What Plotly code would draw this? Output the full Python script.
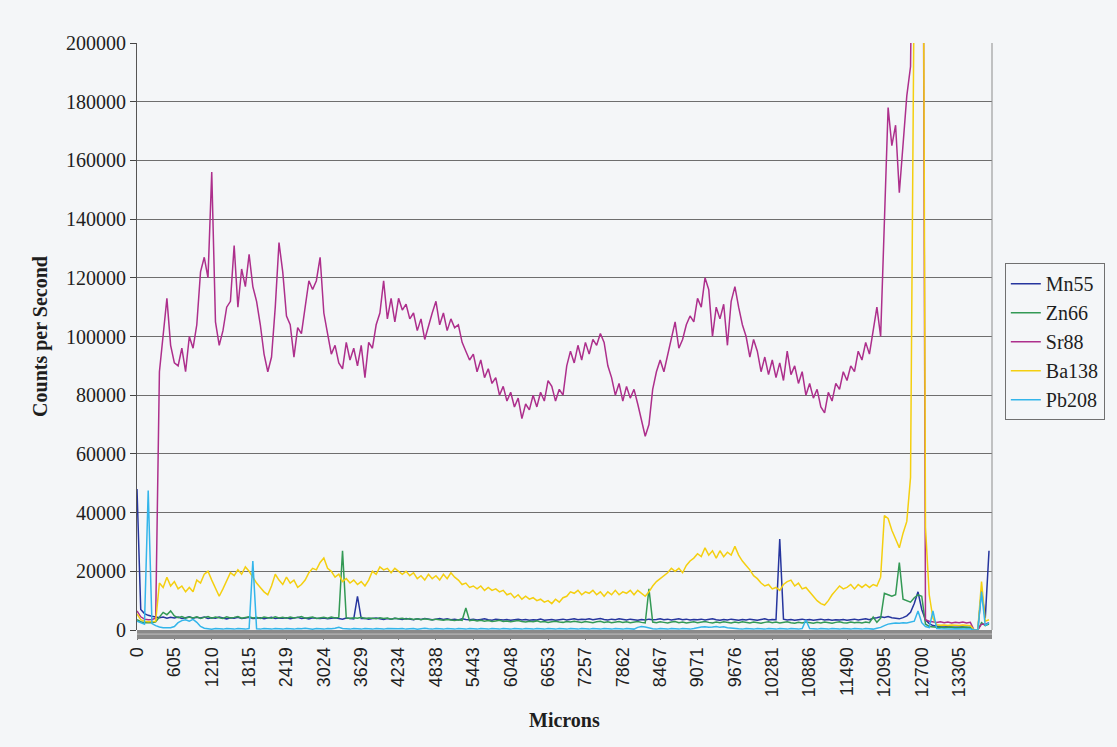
import plotly.graph_objects as go

# Category labels along the transect (microns), one every LABEL_STEP samples
MICRON_LABELS = ["0", "605", "1210", "1815", "2419", "3024", "3629", "4234", "4838",
                 "5443", "6048", "6653", "7257", "7862", "8467", "9071", "9676",
                 "10281", "10886", "11490", "12095", "12700", "13305"]
LABEL_STEP = 10

MN55 = [
    48000, 7000, 5600, 5000, 4700, 4500, 4200, 4400, 4000, 4300,
    4100, 4400, 3900, 4200, 4500, 4000, 4300, 4100, 4400, 3900,
    4200, 4000, 4400, 4100, 3800, 4200, 4000, 4300, 3900, 4100,
    4300, 3900, 4100, 4200, 3800, 4000, 4300, 3900, 4100, 4000,
    4200, 3800, 4000, 4300, 3900, 4100, 3800, 4200, 4000, 3900,
    4100, 3800, 4000, 4200, 3900, 3700, 4100, 3900, 3800, 11500,
    3900, 4000, 3700, 3900, 4100, 3800, 3600, 3900, 3700, 4000,
    3800, 3600, 3900, 3700, 3500, 3800, 3600, 3900, 3700, 3500,
    3700, 3900, 3600, 3800, 3500, 3700, 3400, 3800, 3600, 3500,
    3700, 3400, 3600, 3800, 3500, 3300, 3700, 3500, 3400, 3600,
    3300, 3500, 3700, 3400, 3600, 3300, 3500, 3400, 3700, 3300,
    3500, 3600, 3300, 3500, 3700, 3400, 3600, 3800, 3500, 3700,
    3600, 3800, 3500, 3700, 3900, 3600, 3400, 3700, 3500, 3800,
    3600, 3400, 3700, 3500, 3300, 3600, 3400, 3700, 3500, 3600,
    3800, 3500, 3700, 3400, 3600, 3800, 3500, 3700, 3400, 3600,
    3500, 3700, 3400, 3600, 3800, 3500, 3300, 3600, 3400, 3700,
    3500, 3300, 3600, 3400, 3700, 3500, 3300, 3600, 3800, 3400,
    3600, 3500, 31000, 3700, 3400, 3600, 3300, 3500, 3700, 3400,
    3600, 3300, 3500, 3700, 3400, 3600, 3300, 3500, 3400, 3600,
    3300, 3500, 3700, 3400, 3600, 3800, 3500, 4000, 4200, 4500,
    4300, 4600, 4200, 4000, 3800, 4200, 4800, 6000, 9000, 13000,
    7000, 3500, 2200, 1500, 1200, 1100, 1000, 1100, 900, 1000,
    900, 1000, 800, 900, 0, 0, 13500, 4000, 27000,
]

ZN66 = [
    3500, 2800, 2500, 2400, 2500, 2800, 4500, 6000, 5200, 6500,
    4800, 4200, 4600, 4000, 4400, 4100, 4500, 3900, 4300, 4600,
    4000, 4400, 4200, 3900, 4500, 4100, 4300, 4600, 4000, 4200,
    4500, 4100, 4300, 3900, 4400, 4200, 4000, 4500, 4100, 4300,
    4000, 4400, 4100, 4300, 4600, 4000, 4200, 4400, 3900, 4200,
    4300, 4000, 4400, 4100, 4300, 27000, 4100, 3900, 4200, 4000,
    4300, 3900, 4100, 4000, 3800, 4200, 3900, 4100, 3700, 4000,
    3800, 4000, 3700, 3900, 3600, 3800, 3500, 3800, 3600, 3400,
    3700, 3500, 3300, 3600, 3400, 3200, 3500, 3300, 7500, 3200,
    3400, 3100, 3300, 3000, 3200, 2900, 3100, 3300, 2900, 3100,
    2800, 3000, 3200, 2900, 2700, 3000, 2800, 3100, 2700, 2900,
    2600, 2800, 3000, 2700, 2600, 2900, 2700, 3000, 2800, 2600,
    2900, 2700, 2500, 2800, 3000, 2600, 2800, 2500, 2700, 2900,
    2600, 2800, 2500, 2700, 2900, 2600, 2400, 14000, 2700, 2500,
    2800, 2600, 2400, 2700, 2900, 2500, 2700, 2400, 2600, 2800,
    2500, 2700, 2900, 2600, 2400, 2700, 2500, 2800, 2600, 2400,
    2700, 2500, 2800, 2600, 2400, 2700, 2500, 2300, 2600, 2800,
    2500, 2700, 2400, 2600, 2800, 2500, 2300, 2600, 2400, 2700,
    2500, 2300, 2600, 2400, 2700, 2500, 2300, 2600, 2800, 2500,
    2400, 2700, 2500, 2600, 2400, 2700, 2500, 4400, 2600, 4000,
    12500, 12000, 11500, 12000, 23000, 10500, 10000, 9500, 11000, 12000,
    11500, 2000, 1200, 1000, 900, 1000, 800, 900, 1000, 800,
    900, 800, 1000, 900, 0, 0, 2500, 1500, 2000,
]

SR88 = [
    6500, 4500, 3700, 3500, 3600, 4000, 88000, 100000, 113000, 97000,
    91000, 90000, 96000, 88000, 100000, 96000, 104000, 122000, 127000, 120000,
    156000, 105000, 97000, 102000, 110000, 112000, 131000, 110000, 123000, 117000,
    128000, 117000, 112000, 104000, 94000, 88000, 93000, 110000, 132000, 122000,
    107000, 104000, 93000, 103000, 101000, 110000, 119000, 116000, 119000, 127000,
    108000, 101000, 94000, 97000, 91000, 89000, 98000, 92000, 96000, 90000,
    97000, 86000, 98000, 96000, 104000, 108000, 119000, 106000, 113000, 105000,
    113000, 109000, 111000, 106000, 108000, 102000, 106000, 99000, 104000, 108000,
    112000, 104000, 108000, 102000, 106000, 103000, 104000, 98000, 95000, 92000,
    94000, 88000, 92000, 86000, 89000, 84000, 86000, 80000, 83000, 78000,
    81000, 76000, 79000, 72000, 77000, 75000, 80000, 76000, 81000, 78000,
    85000, 83000, 78000, 82000, 80000, 90000, 95000, 91000, 97000, 92000,
    98000, 94000, 99000, 97000, 101000, 98000, 90000, 86000, 80000, 84000,
    78000, 83000, 79000, 82000, 77000, 71000, 66000, 70000, 82000, 88000,
    92000, 88000, 94000, 100000, 105000, 96000, 99000, 104000, 107000, 105000,
    113000, 110000, 120000, 116000, 100000, 110000, 106000, 111000, 97000, 112000,
    117000, 110000, 104000, 100000, 93000, 99000, 95000, 88000, 93000, 87000,
    92000, 86000, 91000, 85000, 95000, 87000, 90000, 84000, 88000, 80000,
    84000, 79000, 82000, 76000, 74000, 81000, 78000, 84000, 82000, 88000,
    85000, 90000, 88000, 95000, 92000, 98000, 94000, 102000, 110000, 100000,
    140000, 178000, 165000, 172000, 149000, 165000, 182000, 192000, 260000, 400000,
    400000, 3500, 3000, 2800, 2600, 2800, 2500, 2700, 2400, 2600,
    2500, 2700, 2400, 2600, 0, 0, 2000, 2000, 2500,
]

BA138 = [
    5500, 3500, 3000, 2800, 2900, 3000, 16000, 14500, 18000, 15000,
    16500, 14000, 15000, 13000, 14500, 13000, 17000, 16000, 19000, 20000,
    17000, 14000, 11500, 14000, 17000, 19500, 18500, 20500, 19000, 21500,
    20000, 18000, 16000, 14500, 13000, 12000, 15000, 19000, 17000, 15500,
    18000, 16000, 17000, 14500, 15500, 17000, 19500, 21000, 20500, 23000,
    24500, 21000, 20000, 18000, 19000, 16500, 17500, 16000, 17000, 15500,
    16500, 15000, 17000, 20000, 19000, 21500, 20500, 21000, 19500, 21000,
    20000, 19000, 20000, 18500, 19500, 17500, 18500, 17000, 19000, 17500,
    18500, 17000, 19000, 17500, 19500, 18000, 17000, 15500, 16000, 14500,
    15000, 14000, 15000, 13500, 14500, 13500, 14000, 13000, 13500, 12000,
    12500, 11000, 12000, 10500, 11500, 10500, 11000, 10000, 10500, 9500,
    10000, 9000, 10500, 9500, 11000, 11500, 13000, 12500, 13500, 12000,
    13000, 12500, 13500, 12000, 13000, 11500, 13000, 12000, 13500, 12000,
    13000, 12500, 13500, 12000, 13500, 12500, 11500, 13000, 15000, 16500,
    17500, 18500, 19500, 21000, 20000, 21000, 19500, 22000, 23500, 24500,
    26000, 25000, 28000, 25500, 27000, 24500, 27000, 25000, 26500, 25500,
    28500, 25500, 23500, 22000, 20500, 18500, 17500, 16000, 15000, 15500,
    14000, 14500, 13500, 15500, 16500, 17000, 15000, 16000, 14000, 14500,
    13000, 11500, 10000, 9000, 8500, 10000, 12000, 13500, 15000, 14000,
    14500, 15500, 14000, 15500, 14500, 15500, 14500, 15500, 15000, 18000,
    39000, 38000, 34000, 31000, 28000, 33000, 37000, 52000, 230000, 400000,
    400000, 35000, 12000, 4000, 1800, 1600, 1700, 1500, 1700, 1600,
    1500, 1700, 1600, 1500, 0, 0, 16500, 3000, 3500,
]

PB208 = [
    3000, 2500, 2000, 47500, 2200, 1500, 1000, 800, 700, 800,
    1200, 2500, 3200, 3500, 3000, 3600, 2600, 1200, 600, 400,
    300, 500, 400, 300, 500, 400, 300, 500, 400, 300,
    500, 23500, 400, 300, 500, 400, 300, 500, 400, 300,
    500, 400, 300, 500, 400, 600, 400, 300, 500, 400,
    300, 500, 400, 600, 900, 500, 400, 300, 500, 400,
    300, 500, 400, 300, 500, 400, 300, 500, 400, 300,
    400, 500, 300, 400, 500, 300, 400, 600, 400, 300,
    500, 400, 300, 500, 400, 300, 500, 400, 300, 500,
    400, 300, 500, 400, 300, 500, 400, 300, 500, 400,
    300, 500, 400, 300, 500, 400, 300, 500, 400, 300,
    500, 400, 300, 500, 400, 300, 500, 400, 300, 500,
    400, 300, 500, 400, 300, 500, 400, 300, 500, 400,
    300, 500, 400, 300, 900, 1200, 1000, 600, 400, 300,
    500, 400, 300, 500, 400, 300, 500, 400, 300, 500,
    800, 1000, 1100, 900, 1000, 1200, 900, 1100, 800, 600,
    500, 400, 300, 500, 400, 300, 500, 400, 300, 500,
    400, 300, 500, 400, 300, 500, 400, 300, 500, 3400,
    500, 400, 300, 500, 400, 300, 500, 400, 300, 500,
    400, 300, 500, 400, 300, 500, 400, 300, 600, 900,
    1500, 2000, 2200, 2400, 2300, 2500, 2400, 2600, 3000, 6500,
    2500, 1200, 800, 6500, 500, 400, 300, 400, 300, 400,
    300, 400, 300, 400, 0, 0, 13000, 1500, 2500,
]

SERIES = [
    ("Mn55", MN55, "#26359e"),
    ("Zn66", ZN66, "#339955"),
    ("Sr88", SR88, "#ad2f8c"),
    ("Ba138", BA138, "#f4cf10"),
    ("Pb208", PB208, "#33b5ea"),
]

BG = "#f4f6f8"
TEXT = "#1e1e1e"
SERIF = "Liberation Serif, Times New Roman, serif"
SANS = "Liberation Sans, Arial, sans-serif"
PLOT_H_PX = 587  # plot-area height, used to size the category tick band

samples = list(range(len(SR88)))

fig = go.Figure()
for name, values, color in SERIES:
    fig.add_trace(go.Scatter(
        x=samples, y=values, mode="lines", name=name, legendgroup=name,
        line=dict(color=color, width=1.5),
    ))

tick_positions = [k * LABEL_STEP for k in range(len(MICRON_LABELS))]
band = 9 / PLOT_H_PX  # depth of the dense category-tick band below the axis

fig.update_layout(
    width=1117, height=747,
    margin=dict(l=137, r=122, t=43, b=117),
    paper_bgcolor=BG, plot_bgcolor=BG,
    showlegend=True,
    legend=dict(
        x=1.015, xanchor="left", y=0.625, yanchor="top",
        font=dict(family=SERIF, size=20, color=TEXT),
        bordercolor="#707070", borderwidth=1, bgcolor="rgba(0,0,0,0)",
        tracegroupgap=4, traceorder="normal",
    ),
    xaxis=dict(
        range=[0, 228.8],
        tickmode="array", tickvals=tick_positions, ticktext=MICRON_LABELS,
        tickangle=-90, ticks="outside", ticklen=9, tickwidth=1, tickcolor="#7a7a7a",
        tickfont=dict(family=SANS, size=18, color=TEXT),
        showgrid=False, zeroline=False, showline=False,
    ),
    yaxis=dict(
        range=[0, 200000], dtick=20000, tickformat="d",
        ticks="outside", ticklen=6, tickcolor="#444444",
        tickfont=dict(family=SERIF, size=20, color=TEXT),
        showgrid=True, gridcolor="#6e6e6e", gridwidth=1,
        zeroline=False, showline=True, linecolor="#555555", linewidth=1,
    ),
    shapes=[
        # right border of the plot area
        dict(type="line", xref="paper", yref="paper", x0=1, x1=1, y0=0, y1=1,
             line=dict(color="#8c8c8c", width=1)),
        # dense category tick marks merge into a grey band under the axis
        dict(type="rect", xref="paper", yref="paper", x0=0, x1=1, y0=-band, y1=0,
             fillcolor="#8a8a8a", line=dict(width=0), layer="above"),
        dict(type="rect", xref="paper", yref="paper", x0=0, x1=1,
             y0=-band * 0.55, y1=-band * 0.35,
             fillcolor="#a9a9a9", line=dict(width=0), layer="above"),
    ],
    annotations=[
        dict(text="<b>Microns</b>", xref="paper", yref="paper", x=0.5, y=-0.1533,
             xanchor="center", yanchor="middle", showarrow=False,
             font=dict(family=SERIF, size=20, color=TEXT)),
        dict(text="<b>Counts per Second</b>", xref="paper", yref="paper", x=-0.113, y=0.5,
             xanchor="center", yanchor="middle", textangle=-90, showarrow=False,
             font=dict(family=SERIF, size=20, color=TEXT)),
    ],
)

fig.write_html("out.html")
